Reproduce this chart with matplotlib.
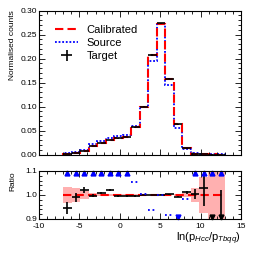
import numpy as np
import matplotlib
matplotlib.use('Agg')
import matplotlib.pyplot as plt
from matplotlib.ticker import MultipleLocator, FormatStrFormatter
from matplotlib.lines import Line2D

plt.rcParams['font.family'] = ['Liberation Sans', 'DejaVu Sans']
plt.rcParams['mathtext.fontset'] = 'custom'
plt.rcParams['mathtext.rm'] = 'Liberation Sans'
plt.rcParams['mathtext.it'] = 'Liberation Sans:italic'

# ---- data ----
bin_edges = np.linspace(-7, 13, 20)
calibrated = [0.002, 0.004, 0.008, 0.018, 0.024, 0.030, 0.034, 0.037, 0.057, 0.100,
              0.208, 0.273, 0.158, 0.064, 0.013, 0.002, 0.001, 0.0006, 0.0003]
source = [0.003, 0.005, 0.010, 0.022, 0.028, 0.035, 0.039, 0.042, 0.060, 0.100,
          0.195, 0.273, 0.145, 0.056, 0.0128, 0.003, 0.0015, 0.001, 0.0005]
target = [0.0019, 0.004, 0.0082, 0.018, 0.0242, 0.0307, 0.0338, 0.0368, 0.0567, 0.100,
          0.208, 0.2735, 0.1585, 0.0635, 0.0131, 0.002, 0.001, 0.0003, 0.0002]
target_err = [0.0002, 0.0003, 0.0004, 0.0005, 0.0006, 0.0006, 0.0006, 0.0006, 0.0008, 0.001,
              0.0015, 0.0017, 0.0013, 0.0008, 0.0004, 0.0002, 0.0001, 0.0001, 0.0001]

ratio_target = [0.945, 0.99, 1.02, 0.997, 1.01, 1.022, 0.995, 0.995, 0.995, 1.0,
                1.0, 1.002, 1.003, 0.993, 1.012, 1.004, 1.028, 0.6, 0.7]
ratio_target_err = [0.025, 0.02, 0.012, 0.006, 0.004, 0.004, 0.003, 0.003, 0.003, 0.002,
                    0.002, 0.002, 0.002, 0.003, 0.006, 0.022, 0.075, 0.2, 0.32]
ratio_source = [1.3, 1.25, 1.25, 1.2, 1.17, 1.15, 1.14, 1.12, 1.055, 1.004,
                0.937, 1.0, 0.915, 0.88, 0.982, 1.5, 1.5, 1.7, 1.7]
calib_band = [0.035, 0.028, 0.017, 0.008, 0.005, 0.004, 0.003, 0.003, 0.003, 0.002,
              0.002, 0.002, 0.002, 0.003, 0.008, 0.03, 0.075, 0.2, 0.3]

centers = 0.5 * (bin_edges[1:] + bin_edges[:-1])
halfw = 0.5 * np.diff(bin_edges)

fig = plt.figure(figsize=(2.54, 2.54), dpi=100)
ax = fig.add_axes([0.1535, 0.391, 0.795, 0.567])
ax2 = fig.add_axes([0.1535, 0.1378, 0.795, 0.189])

# ---- top panel ----
ax.stairs(source, bin_edges, color='blue', ls=(0, (1, 1)), lw=1.3)
ax.stairs(calibrated, bin_edges, color='red', ls=(0, (4, 2)), lw=1.5)
eb = ax.errorbar(centers, target, xerr=halfw, yerr=target_err, fmt='none',
                 ecolor='black', elinewidth=1.2)

ax.set_xlim(-10, 15)
ax.set_ylim(0, 0.30)
ax.yaxis.set_major_locator(MultipleLocator(0.05))
ax.yaxis.set_minor_locator(MultipleLocator(0.01))
ax.yaxis.set_major_formatter(FormatStrFormatter('%.2f'))
ax.xaxis.set_major_locator(MultipleLocator(5))
ax.xaxis.set_minor_locator(MultipleLocator(1))
ax.tick_params(labelbottom=False)
ax.set_ylabel('Normalised counts', fontsize=6, loc='top', labelpad=3)

handles = [Line2D([], [], color='red', ls=(0, (4, 2)), lw=1.5),
           Line2D([], [], color='blue', ls=(0, (1, 1)), lw=1.3),
           eb]
ax.legend(handles, ['Calibrated', 'Source', 'Target'], loc='upper left',
          bbox_to_anchor=(0.08, 0.9), frameon=False, fontsize=8,
          borderpad=0, borderaxespad=0, handlelength=2.1, handletextpad=0.7,
          labelspacing=0.28)

# ---- ratio panel ----
ax2.stairs(1 + np.array(calib_band), bin_edges, baseline=1 - np.array(calib_band),
           fill=True, color='#ffb0b0', lw=0)
ax2.plot([bin_edges[0], bin_edges[-1]], [1, 1], color='red', ls=(0, (4, 2)), lw=1.5)

ymin, ymax = 0.9, 1.1
rt = np.array(ratio_target)
rte = np.array(ratio_target_err)
ax2.errorbar(centers, rt, xerr=np.where((rt > ymin) & (rt < ymax), halfw, 0),
             yerr=rte, fmt='none', ecolor='black', elinewidth=1.2)
low_t = rt < ymin
ax2.plot(centers[low_t], np.full(low_t.sum(), 0.908), 'v', color='black', ms=3.5, clip_on=False)

rs = np.array(ratio_source)
inr = (rs > ymin) & (rs < ymax)
ax2.hlines(rs[inr], bin_edges[:-1][inr], bin_edges[1:][inr], colors='blue',
           linestyles=(0, (1, 1.5)), lw=1.3)
hi_s = rs >= ymax
lo_s = rs <= ymin
ax2.plot(centers[hi_s], np.full(hi_s.sum(), 1.092), '^', color='blue', ms=3.5, clip_on=False)
ax2.plot(centers[lo_s], np.full(lo_s.sum(), 0.908), 'v', color='blue', ms=3.5, clip_on=False)

ax2.set_xlim(-10, 15)
ax2.set_ylim(ymin, ymax)
ax2.yaxis.set_major_locator(MultipleLocator(0.1))
ax2.yaxis.set_minor_locator(MultipleLocator(0.02))
ax2.yaxis.set_major_formatter(FormatStrFormatter('%.1f'))
ax2.xaxis.set_major_locator(MultipleLocator(5))
ax2.xaxis.set_minor_locator(MultipleLocator(1))
ax2.xaxis.set_major_formatter(FormatStrFormatter('%d'))
ax2.set_ylabel('Ratio', fontsize=6, loc='top', labelpad=6)
ax2.set_xlabel(r'ln(p$_{\mathit{Hcc}}$/p$_{\mathit{Tbqq}}$)', fontsize=8, loc='right', labelpad=0)

for a in (ax, ax2):
    a.tick_params(which='both', direction='in', top=True, right=True, labelsize=6, width=0.6)
    a.tick_params(which='major', length=4)
    a.tick_params(which='minor', length=2)
    a.tick_params(axis='y', which='major', pad=1.5)
    a.tick_params(axis='x', which='major', pad=3.0)
    for s in a.spines.values():
        s.set_linewidth(0.8)

fig.savefig('out.png', dpi=100)
